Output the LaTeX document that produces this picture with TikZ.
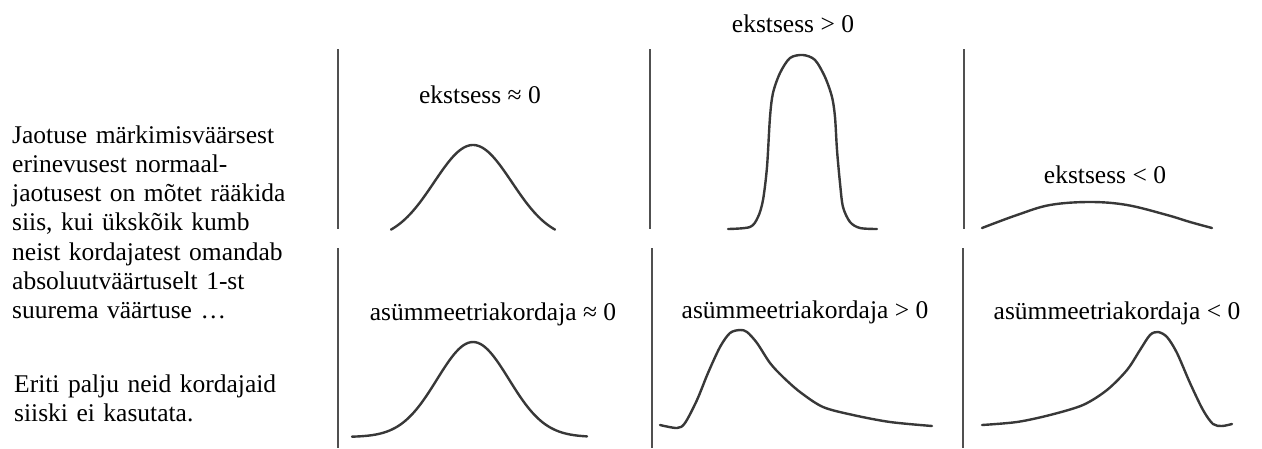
\documentclass[tikz,border=0pt]{standalone}
\usepackage{fontspec}
\setmainfont{Liberation Serif}
\definecolor{axisgray}{HTML}{505050}
\definecolor{curvegray}{HTML}{383838}
\tikzset{
  axisline/.style={draw=axisgray, line width=2pt},
  curve/.style={draw=curvegray, line width=2.4pt, line join=round, line cap=round},
  lbl/.style={anchor=base, inner sep=0pt, font=\fontsize{25.5}{29.3}\selectfont},
  para/.style={anchor=base west, inner sep=0pt, text width=300pt, align=left, font=\fontsize{25.5}{29.3}\selectfont}
}
\begin{document}
\begin{tikzpicture}[x=1pt, y=-1pt]
\useasboundingbox (0,0) rectangle (1262,448);
% left text
\node[para] (p1) at (12,143) {Jaotuse märkimisväärsest\\erinevusest normaal-\\jaotusest on mõtet rääkida\\siis, kui ükskõik kumb\\neist kordajatest omandab\\absoluutväärtuselt 1-st\\suurema väärtuse …};
\node[para] (p2) at (14,392) {Eriti palju neid kordajaid\\siiski ei kasutata.};
% axes
\draw[axisline] (338,49) -- (338,229);
\draw[axisline] (650,49) -- (650,229);
\draw[axisline] (964,49) -- (964,229);
\draw[axisline] (338,248) -- (338,448);
\draw[axisline] (652,248) -- (652,448);
\draw[axisline] (963,248) -- (963,448);
% top row labels
\node[lbl] (k0) at (480,103) {ekstsess ≈ 0};
\node[lbl] (kp) at (793,32) {ekstsess > 0};
\node[lbl] (kn) at (1105,183) {ekstsess < 0};
% bottom row labels
\node[lbl] (a0) at (493,320) {asümmeetriakordaja ≈ 0};
\node[lbl] (ap) at (805,318) {asümmeetriakordaja > 0};
\node[lbl] (an) at (1117,319) {asümmeetriakordaja < 0};
% top row curves
\draw[curve] plot[domain=391:555, samples=80] (\x, {240-95*exp(-((\x-473)/39)*((\x-473)/39)/2)});
\draw[curve] plot[smooth, tension=0.5] coordinates {(728,229) (750,227) (758,217) (763,200) (767,167) (770,117) (773,93) (780,73) (790,58) (803,55) (815,60) (825,77) (832,97) (835,117) (837,150) (840,183) (843,207) (850,222) (860,228) (877,229)};
\draw[curve] plot[smooth, tension=0.6] coordinates {(982,228) (1017,215) (1050,205) (1090,202) (1127,205) (1167,215) (1190,222) (1212,228)};
% bottom row curves
\draw[curve] plot[domain=352:587, samples=100] (\x, {437-95*exp(-((\x-473)/36)*((\x-473)/36)/2)});
\draw[curve] plot[smooth, tension=0.5] coordinates {(660,425) (677,428) (685,423) (697,400) (708,373) (720,347) (730,333) (740,330) (747,332) (757,343) (770,363) (783,377) (800,392) (823,407) (853,415) (890,422) (932,426)};
\draw[curve] plot[smooth, tension=0.5] coordinates {(982,425) (1017,422) (1050,415) (1083,405) (1107,390) (1127,370) (1140,350) (1150,335) (1158,332) (1167,337) (1177,353) (1190,383) (1203,410) (1213,424) (1222,426) (1232,424)};
\end{tikzpicture}
\end{document}
